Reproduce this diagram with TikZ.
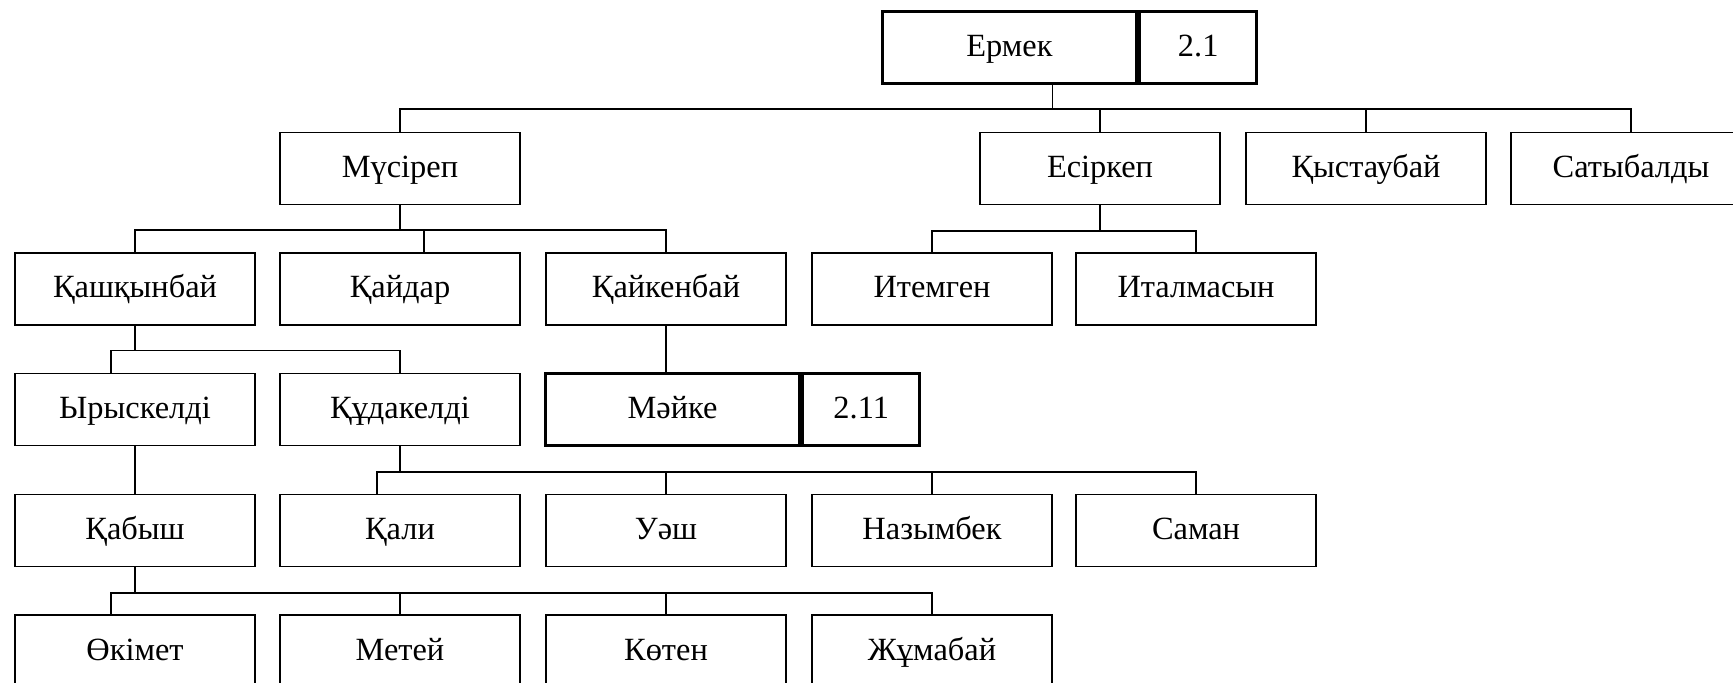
\documentclass[tikz,border=0pt]{standalone}
\usepackage{fontspec}
\setmainfont{Liberation Serif}
\usetikzlibrary{positioning, calc}

\begin{document}
\begin{tikzpicture}[
    x=0.5pt, y=-0.5pt,
    every node/.style={font=\fontsize{16.2}{19}\selectfont},
    person/.style={rectangle, draw, line width=0.6pt, minimum width=120pt, minimum height=36pt, inner sep=0pt, text height=10.5pt, text depth=1.5pt},
    keyperson/.style={person, line width=1.6pt, minimum width=127pt},
    keynum/.style={person, line width=1.6pt, minimum width=58.5pt},
    link/.style={line width=0.8pt}
]
\useasboundingbox (0,0) rectangle (1733,683);
\clip (0,0) rectangle (1733,683);

% Top
\node[keyperson] (ermek) at (1009.5,47.5) {Ермек};
\node[keynum, right=0pt of ermek] (ermeknum) {2.1};

% Row 1
\node[person] (musirep) at (400,168.5) {Мүсіреп};
\node[person] (esirkep) at (1100,168.5) {Есіркеп};
\node[person] (qystaubai) at (1366,168.5) {Қыстаубай};
\node[person] (satybaldy) at (1631,168.5) {Сатыбалды};

% Row 2
\node[person] (qashqynbai) at (135,289) {Қашқынбай};
\node[person] (qaidar) at (400,289) {Қайдар};
\node[person] (qaikenbai) at (666,289) {Қайкенбай};
\node[person] (itemgen) at (932,289) {Итемген};
\node[person] (italmasyn) at (1196,289) {Италмасын};

% Row 3
\node[person] (yryskeldi) at (135,409.5) {Ырыскелді};
\node[person] (qudakeldi) at (400,409.5) {Құдакелді};
\node[keyperson] (maike) at (672.5,409.5) {Мәйке};
\node[keynum, right=0pt of maike] (maikenum) {2.11};

% Row 4
\node[person] (qabysh) at (135,530.5) {Қабыш};
\node[person] (qali) at (400,530.5) {Қали};
\node[person] (uash) at (666,530.5) {Уәш};
\node[person] (nazymbek) at (932,530.5) {Назымбек};
\node[person] (saman) at (1196,530.5) {Саман};

% Row 5
\node[person] (okimet) at (135,651) {Өкімет};
\node[person] (metei) at (400,651) {Метей};
\node[person] (koten) at (666,651) {Көтен};
\node[person] (zhumabai) at (932,651) {Жұмабай};

% Ермек's sons
\draw[link] ($(ermek.south west)!2/3!(ermek.south east)$) -- ++(0,24) coordinate (b0);
\foreach \c in {musirep, esirkep, qystaubai, satybaldy}
    \draw[link] (b0) -| (\c.north);

% Мүсіреп
\draw[link] (musirep.south) -- ++(0,25) coordinate (b1);
\draw[link] (b1) -| (qashqynbai.north);
\draw[link] (b1) -| ($(qaidar.north)+(24,0)$);
\draw[link] (b1) -| (qaikenbai.north);

% Есіркеп
\draw[link] (esirkep.south) -- ++(0,26) coordinate (b2);
\draw[link] (b2) -| (itemgen.north);
\draw[link] (b2) -| (italmasyn.north);

% Қашқынбай
\draw[link] (qashqynbai.south) -- ++(0,25) coordinate (b3);
\draw[link] (b3) -| ($(yryskeldi.north)+(-24,0)$);
\draw[link] (b3) -| (qudakeldi.north);

% Қайкенбай, Ырыскелді
\draw[link] (qaikenbai.south) -- (qaikenbai.south |- maike.north);
\draw[link] (yryskeldi) -- (qabysh);

% Құдакелді
\draw[link] (qudakeldi.south) -- ++(0,26) coordinate (b4);
\draw[link] (b4) -| ($(qali.north)+(-23,0)$);
\foreach \c in {uash, nazymbek, saman}
    \draw[link] (b4) -| (\c.north);

% Қабыш
\draw[link] (qabysh.south) -- ++(0,26) coordinate (b5);
\draw[link] (b5) -| ($(okimet.north)+(-24,0)$);
\foreach \c in {metei, koten, zhumabai}
    \draw[link] (b5) -| (\c.north);

\end{tikzpicture}
\end{document}
